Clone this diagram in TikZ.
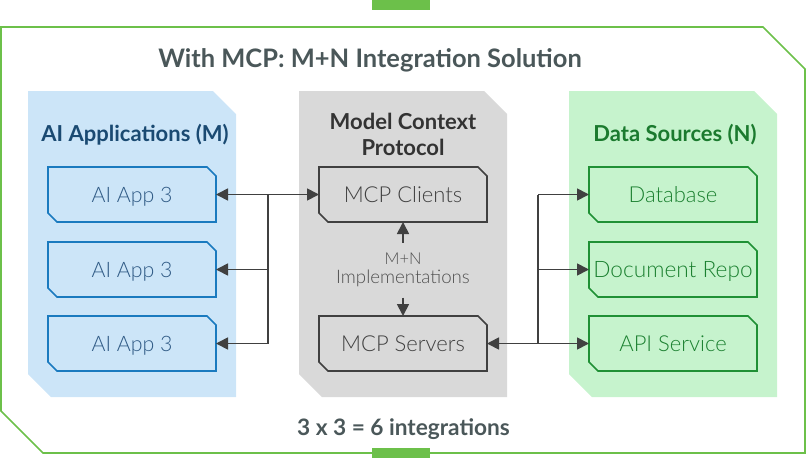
\documentclass[tikz,border=0pt]{standalone}
\usepackage{fontspec}
\setmainfont{Lato}
\newfontfamily\lightf{Lato Light}
\usetikzlibrary{arrows.meta}
\definecolor{frameG}{HTML}{6CC04A}
\definecolor{titleC}{HTML}{4A5759}
\definecolor{panelB}{HTML}{CCE5F8}
\definecolor{strokeB}{HTML}{1A7ABF}
\definecolor{headB}{HTML}{1A4A72}
\definecolor{textB}{HTML}{2F5A85}
\definecolor{panelG}{HTML}{C6F3CD}
\definecolor{strokeG}{HTML}{1F9035}
\definecolor{headG}{HTML}{1B7A2E}
\definecolor{textG}{HTML}{1B8030}
\definecolor{panelK}{HTML}{D9D9D9}
\definecolor{strokeK}{HTML}{404040}
\definecolor{headK}{HTML}{333333}
\definecolor{textK}{HTML}{505050}
\def\px{0.75pt}
\newcommand\fs[1]{\fontsize{#1}{#1}\selectfont}
% outline with the top right and bottom left corners cut off
\newcommand\snipped[3]{\path[#1] (#2.north west) -- ([xshift=-#3*\px]#2.north east) -- ([yshift=-#3*\px]#2.north east) -- (#2.south east) -- ([xshift=#3*\px]#2.south west) -- ([yshift=#3*\px]#2.south west) -- cycle;}
\tikzset{
  x=0.75pt,y=-0.75pt,
  plain/.style={inner sep=0pt,outer sep=0pt,align=center},
  frameline/.style={draw=frameG,line width=1.2pt,line join=miter},
  tabbar/.style={plain,fill=frameG,minimum width=58*\px,minimum height=10*\px},
  panel/.style={plain,minimum width=208*\px,minimum height=306*\px},
  itembox/.style={plain,minimum width=168*\px,minimum height=55*\px,text height=12.1pt,text depth=0pt,font=\lightf\fs{16.5}},
  bluebox/.style={itembox,text=textB,font=\lightf\fs{16}},
  greenbox/.style={itembox,text=textG},
  greybox/.style={itembox,text=strokeK},
  blueline/.style={draw=strokeB,line width=1.25pt},
  greenline/.style={draw=strokeG,line width=1.25pt},
  greyline/.style={draw=strokeK,line width=1.25pt},
  heading/.style={plain,font=\bfseries\fs{16.5}},
  bigtitle/.style={plain,font=\bfseries\fs{19.1},text=titleC},
  conn/.style={draw=strokeK,line width=1.3pt},
  biarrow/.style={conn,{Triangle[length=9pt,width=9pt]}-{Triangle[length=9pt,width=9pt]}},
  onearrow/.style={conn,-{Triangle[length=9pt,width=9pt]}},
}
\begin{document}
\begin{tikzpicture}
\useasboundingbox (0,0) rectangle (807,458);
% frame
\node[plain,minimum width=804*\px,minimum height=426*\px] (frame) at (403,240) {};
\snipped{frameline}{frame}{42}
\node[tabbar] (tabtop) at (401,5) {};
\node[tabbar] (tabbot) at (401,453) {};
\node[bigtitle] (title) at (370,60.5) {With MCP: M+N Integration Solution};
\node[bigtitle,font=\bfseries\fs{17}] (total) at (403.5,429.5) {3 x 3 = 6 integrations};
% panels
\node[panel] (pa) at (132,244) {};
\node[panel] (pm) at (403,244) {};
\node[panel] (pd) at (673,244) {};
\snipped{fill=panelB}{pa}{23}
\snipped{fill=panelK}{pm}{23}
\snipped{fill=panelG}{pd}{23}
\node[heading,text=headB] (ha) at (135,134.5) {AI Applications (M)};
\node[heading,text=headK] (hm) at (403,134.5) {Model Context\\[2.8pt]Protocol};
\node[heading,text=headG] (hd) at (675,134.5) {Data Sources (N)};
% boxes
\node[bluebox] (app1) at (132,194.5) {AI App 3};
\node[bluebox] (app2) at (132,269.5) {AI App 3};
\node[bluebox] (app3) at (132,343.5) {AI App 3};
\node[greybox] (clients) at (403,194.5) {MCP Clients};
\node[greybox] (servers) at (403,343.5) {MCP Servers};
\node[greenbox] (db) at (673,194.5) {Database};
\node[greenbox,font=\lightf\fs{17}] (doc) at (673,269.5) {Document Repo};
\node[greenbox] (api) at (673,343.5) {API Service};
\foreach \n in {app1,app2,app3}{\snipped{blueline}{\n}{9}}
\foreach \n in {clients,servers}{\snipped{greyline}{\n}{9}}
\foreach \n in {db,doc,api}{\snipped{greenline}{\n}{9}}
\node[plain,minimum height=55*\px,text=textK] (impl) at (403,270) {\lightf\fs{12.3}M+N\\[2.2pt]\lightf\fs{14}Implementations};
% connectors
\coordinate (jl) at (268,194.5);
\coordinate (jr) at (538,343.5);
\draw[biarrow] (app1.east) -- (clients.west);
\draw[conn] (jl) -- (jl |- app3.east);
\draw[onearrow] (jl |- app2.east) -- (app2.east);
\draw[onearrow] (jl |- app3.east) -- (app3.east);
\draw[biarrow] (servers.east) -- (api.west);
\draw[conn] (jr) -- (jr |- db.west);
\draw[onearrow] (jr |- db.west) -- (db.west);
\draw[onearrow] (jr |- doc.west) -- (doc.west);
\draw[onearrow] (impl.north) -- (clients.south);
\draw[onearrow] (impl.south) -- (servers.north);
\end{tikzpicture}
\end{document}
